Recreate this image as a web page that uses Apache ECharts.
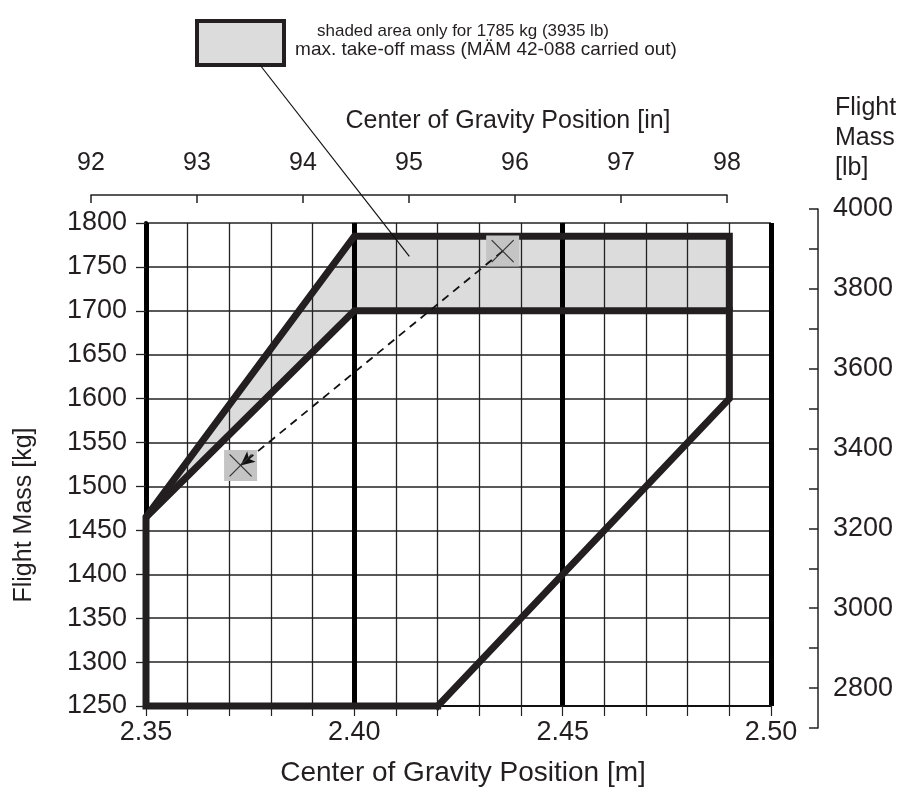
<!DOCTYPE html>
<html>
<head>
<meta charset="utf-8">
<script src="https://cdn.jsdelivr.net/npm/echarts@6/dist/echarts.min.js"></script>
<style>
html,body{margin:0;padding:0;background:#fff;}
#chart{width:904px;height:788px;}
</style>
</head>
<body>
<div id="chart"></div>
<script>
// ---- data ----
const cgMinM = 2.35, cgMaxM = 2.50;          // bottom axis [m]
const massMinKg = 1250, massMaxKg = 1800;    // left axis [kg]
const massMinLb = 2700, massMaxLb = 4000;    // right axis [lb]
const cgMinIn = 92, cgMaxIn = 98;            // top axis [in]

// normal envelope outline (m, kg)
const envelopeX = [2.42, 2.35, 2.35, 2.40, 2.49, 2.49, 2.42];
const envelopeY = [1250, 1250, 1465, 1700, 1700, 1600, 1250];
// upper (1785 kg) envelope outline
const upperX = [2.35, 2.40, 2.49, 2.49];
const upperY = [1465, 1785, 1785, 1700];
// shaded area polygon
const shadedX = [2.35, 2.40, 2.49, 2.49, 2.40];
const shadedY = [1465, 1785, 1785, 1700, 1700];
// example points (take-off -> landing)
const markerX = [2.4356, 2.3727];
const markerY = [1768, 1524];
// leader from legend box points here
const leaderX = 2.4132, leaderY = 1762;

const legendLine1 = 'shaded area only for 1785 kg (3935 lb)';
const legendLine2 = 'max. take-off mass (MÄM 42-088 carried out)';

// ---- chart ----
const FONT = '"Liberation Sans", Arial, sans-serif';
const INK = '#231f20';
const chart = echarts.init(document.getElementById('chart'), null, {renderer:'canvas'});

const zip = (xs, ys) => xs.map((x, i) => [x, ys[i]]);

const option = {
  animation: false,
  backgroundColor: '#fff',
  textStyle: {fontFamily: FONT, color: INK},
  grid: [
    {left: 146, top: 223, width: 625, height: 483, outerBoundsMode: 'none', containLabel: false},
    {left: 146, right: 86, top: 209, height: 519, outerBoundsMode: 'none', containLabel: false},
    {left: 91, right: 177, top: 185, height: 10, outerBoundsMode: 'none', containLabel: false}
  ],
  xAxis: [
    { // bottom [m] axis with fine grid
      gridIndex: 0, type: 'value', position: 'bottom',
      min: cgMinM, max: cgMaxM, interval: 0.01,
      axisLine: {show: true, onZero: false, lineStyle: {color: '#111', width: 2}},
      axisTick: {show: true, inside: false, length: 10, lineStyle: {color: '#222', width: 1.2}},
      axisLabel: {
        show: true, margin: 13, fontSize: 27, fontFamily: FONT, color: INK,
        formatter: v => (Math.round(v * 100) % 5 === 0 ? v.toFixed(2) : '')
      },
      splitLine: {show: true, lineStyle: {color: '#222', width: 1.3}}
    },
    { // heavy 0.05 m lines
      gridIndex: 0, type: 'value', position: 'bottom',
      min: cgMinM, max: cgMaxM, interval: 0.05,
      axisLine: {show: false}, axisTick: {show: false}, axisLabel: {show: false},
      splitLine: {show: true, lineStyle: {color: '#000', width: 5}}
    },
    { gridIndex: 1, type: 'value', show: false, min: 0, max: 1 },
    { // top [in] axis
      gridIndex: 2, type: 'value', position: 'top',
      min: cgMinIn, max: cgMaxIn, interval: 1,
      axisLine: {show: true, lineStyle: {color: '#222', width: 1.5}},
      axisTick: {show: true, inside: true, length: 8, lineStyle: {color: '#222', width: 1.5}},
      axisLabel: {show: true, margin: 9, fontSize: 25, fontFamily: FONT, color: INK},
      splitLine: {show: false}
    }
  ],
  yAxis: [
    { // left [kg]
      gridIndex: 0, type: 'value', position: 'left',
      min: massMinKg, max: massMaxKg, interval: 50,
      axisLine: {show: true, onZero: false, lineStyle: {color: '#000', width: 4}},
      axisTick: {show: true, inside: false, length: 10, lineStyle: {color: '#222', width: 1.3}},
      axisLabel: {show: true, margin: 19, fontSize: 27, fontFamily: FONT, color: INK,
                  formatter: v => String(v)},
      splitLine: {show: true, lineStyle: {color: '#222', width: 1.5}}
    },
    { // right [lb]
      gridIndex: 1, type: 'value', position: 'right',
      min: massMinLb, max: massMaxLb, interval: 100,
      axisLine: {show: true, onZero: false, lineStyle: {color: '#222', width: 1.5}},
      axisTick: {show: true, inside: true, length: 9, lineStyle: {color: '#222', width: 1.5}},
      axisLabel: {
        show: true, margin: 15, fontSize: 27, fontFamily: FONT, color: INK,
        formatter: v => (v % 200 === 0 ? String(v) : '')
      },
      splitLine: {show: false}
    },
    { gridIndex: 2, type: 'value', show: false, min: 0, max: 1 }
  ],
  series: [
    {
      name: 'shaded', type: 'custom', xAxisIndex: 0, yAxisIndex: 0, z: -1, silent: true,
      clip: false,
      data: [[shadedX[0], shadedY[0]]],
      renderItem: (params, api) => ({
        type: 'polygon',
        shape: {points: zip(shadedX, shadedY).map(p => api.coord(p))},
        style: {fill: '#dcdcdc', stroke: 'none'}
      })
    },
    {
      name: 'envelope', type: 'line', xAxisIndex: 0, yAxisIndex: 0, z: 3,
      data: zip(envelopeX, envelopeY), symbol: 'none', silent: true, clip: false,
      lineStyle: {color: INK, width: 7, join: 'miter', cap: 'square'}
    },
    {
      name: 'upper', type: 'line', xAxisIndex: 0, yAxisIndex: 0, z: 3,
      data: zip(upperX, upperY), symbol: 'none', silent: true, clip: false,
      lineStyle: {color: INK, width: 7, join: 'miter', cap: 'butt'}
    },
    {
      name: 'markerBox', type: 'scatter', xAxisIndex: 0, yAxisIndex: 0, z: 4, silent: true,
      data: zip(markerX, markerY), symbol: 'rect', symbolSize: [33, 31],
      itemStyle: {color: '#c4c4c4', opacity: 1},
      markLine: {
        silent: true, symbol: ['none', 'arrow'], symbolSize: [10, 14],
        label: {show: false},
        lineStyle: {color: '#111', width: 1.8, type: [8, 6]},
        data: [[{coord: [markerX[0], markerY[0]]}, {coord: [markerX[1], markerY[1]]}]]
      }
    },
    {
      name: 'markerX', type: 'scatter', xAxisIndex: 0, yAxisIndex: 0, z: 5, silent: true,
      data: zip(markerX, markerY),
      symbol: 'path://M0,0L10,10M10,0L0,10', symbolSize: 22,
      itemStyle: {color: 'none', borderColor: '#333', borderWidth: 1.2, opacity: 1}
    }
  ],
  graphic: []
};
chart.setOption(option);

// annotations (legend box, titles, leader line)
const leaderEnd = chart.convertToPixel({xAxisIndex: 0, yAxisIndex: 0}, [leaderX, leaderY]);
chart.setOption({
  graphic: [
    {type: 'rect', left: 195, top: 19, shape: {width: 87, height: 44}, z: 10,
     style: {fill: '#dcdcdc', stroke: INK, lineWidth: 4}},
    {type: 'text', x: 463, y: 31, z: 10,
     style: {text: legendLine1, fontFamily: FONT, fontSize: 17, fill: INK, textAlign: 'center', textVerticalAlign: 'middle'}},
    {type: 'text', x: 486, y: 50, z: 10,
     style: {text: legendLine2, fontFamily: FONT, fontSize: 19, fill: INK, textAlign: 'center', textVerticalAlign: 'middle'}},
    {type: 'line', z: 10, silent: true,
     shape: {x1: 260, y1: 65, x2: leaderEnd[0], y2: leaderEnd[1]},
     style: {stroke: '#111', lineWidth: 1.2}},
    {type: 'text', x: 508, y: 121, z: 10,
     style: {text: 'Center of Gravity Position [in]', fontFamily: FONT, fontSize: 25, fill: INK, textAlign: 'center', textVerticalAlign: 'middle'}},
    {type: 'text', x: 463, y: 773, z: 10,
     style: {text: 'Center of Gravity Position [m]', fontFamily: FONT, fontSize: 28, fill: INK, textAlign: 'center', textVerticalAlign: 'middle'}},
    {type: 'text', x: 24, y: 515, rotation: Math.PI / 2, z: 10,
     style: {text: 'Flight Mass [kg]', fontFamily: FONT, fontSize: 25, fill: INK, textAlign: 'center', textVerticalAlign: 'middle'}},
    {type: 'text', x: 835, y: 93, z: 10,
     style: {text: 'Flight\nMass\n[lb]', fontFamily: FONT, fontSize: 25, lineHeight: 30, fill: INK, textAlign: 'left', textVerticalAlign: 'top'}}
  ]
});
</script>
</body>
</html>
